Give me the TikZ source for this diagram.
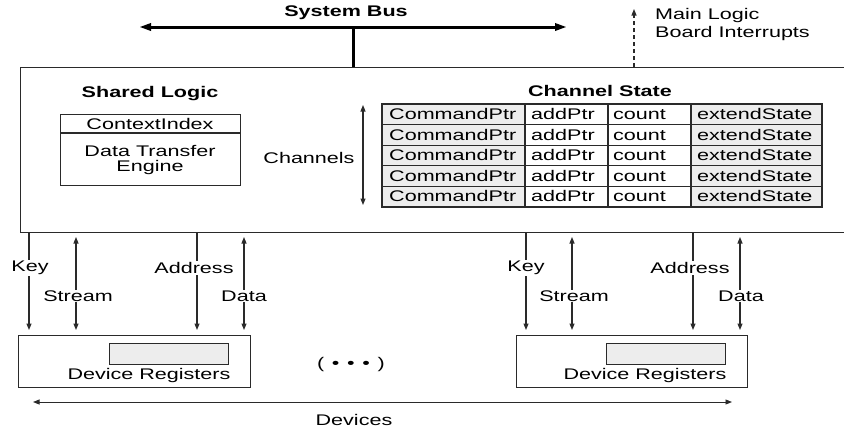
\documentclass[tikz,border=0pt]{standalone}
\usepackage{fontspec}
\setmainfont{Liberation Sans}[FakeStretch=1.4]
\usetikzlibrary{arrows.meta}
\definecolor{cellgray}{HTML}{EDEDED}
\definecolor{linecol}{HTML}{2A2A2A}
\begin{document}
\begin{tikzpicture}[x=1pt,y=-1pt,
  font=\fontsize{15.4}{18}\selectfont,
  line/.style={line width=1.1pt, draw=linecol},
  tip/.style={-{Triangle[length=6.5pt,width=5pt]}},
  dtip/.style={{Triangle[length=6.5pt,width=5pt]}-{Triangle[length=6.5pt,width=5pt]}},
  lbl/.style={fill=white, inner sep=1pt},
  txt/.style={inner sep=0pt},
  boldtxt/.style={inner sep=0pt, font=\fontsize{15.4}{18}\selectfont\bfseries},
  boxnode/.style={draw=linecol, line width=1.1pt, anchor=north west, inner sep=0pt},
]
\useasboundingbox (0,0) rectangle (844,429);

% ---- system bus ----
\node[boldtxt] (sysbus) at (346,13) {System Bus};
\coordinate (busL) at (139,27);
\coordinate (busR) at (567,27);
\coordinate (busT) at (353,27);
\draw[line width=3pt, draw=black, {Triangle[length=12pt,width=7pt]}-{Triangle[length=12pt,width=7pt]}] (busL) -- (busR);

% ---- main box ----
\node[boxnode, minimum width=830pt, minimum height=165pt] (main) at (20,67) {};
\draw[line width=3pt, draw=black] (busT) -- (busT |- main.north);

% ---- interrupts ----
\coordinate (intA) at (634,67);
\coordinate (intB) at (634,9);
\draw[line, dash pattern=on 4pt off 3pt, tip] (intA) -- (intB);
\node[txt, anchor=base west] (ml1) at (655,19.5) {Main Logic};
\node[txt, anchor=base west] (ml2) at (655,37.5) {Board Interrupts};

% ---- shared logic ----
\node[boldtxt] (shared) at (150,94) {Shared Logic};
\node[boxnode, minimum width=180pt, minimum height=71pt] (engine) at (60,114) {};
\draw[line] ([yshift=-19pt]engine.north west) -- ([yshift=-19pt]engine.north east);
\node[txt] (ctx) at (150,124) {ContextIndex};
\node[txt] (dt1) at (150,151) {Data Transfer};
\node[txt] (dt2) at (150,168) {Engine};

% ---- channels ----
\node[txt] (chl) at (309,158) {Channels};
\coordinate (chT) at (363,105);
\coordinate (chB) at (363,205);
\draw[line, dtip] (chT) -- (chB);

% ---- channel state table ----
\node[boldtxt] (chstate) at (600,91) {Channel State};
\foreach \r in {0,...,4}{
  \pgfmathsetmacro{\ya}{104+20.6*\r}
  \pgfmathsetmacro{\yb}{104+20.6*(\r+1)}
  \pgfmathsetmacro{\yt}{104+20.6*\r+15.4}
  \fill[cellgray] (382,\ya) rectangle (525,\yb);
  \fill[cellgray] (691,\ya) rectangle (822,\yb);
  \node[txt, anchor=base west] (cmd\r) at (389,\yt) {CommandPtr};
  \node[txt, anchor=base west] (add\r) at (531,\yt) {addPtr};
  \node[txt, anchor=base west] (cnt\r) at (613,\yt) {count};
  \node[txt, anchor=base west] (ext\r) at (697,\yt) {extendState};
}
\foreach \r in {1,...,4}{
  \pgfmathsetmacro{\ya}{104+20.6*\r}
  \draw[line] (382,\ya) -- (822,\ya);
}
\foreach \c in {525,608,691}{
  \draw[line] (\c,104) -- (\c,207);
}
\draw[line] (382,104) rectangle (822,207);

% ---- device boxes ----
\node[boxnode, minimum width=232pt, minimum height=52pt] (dev1) at (18,335) {};
\node[boxnode, minimum width=231pt, minimum height=52pt] (dev2) at (516,335) {};
\node[boxnode, fill=cellgray, minimum width=119pt, minimum height=21pt] (reg1) at (109,343) {};
\node[boxnode, fill=cellgray, minimum width=119pt, minimum height=21pt] (reg2) at (606,343) {};
\node[txt] (dr1) at (149,376) {Device Registers};
\node[txt] (dr2) at (645,376) {Device Registers};
\node[txt] (dots) at (351,365) {(\enspace•\enspace•\enspace•\enspace)};

% ---- signal arrows ----
\foreach \n/\x in {k1/29, s1/76, a1/197, d1/244, k2/526, s2/572, a2/693, d2/740}{
  \coordinate (\n top) at (\x,232);
  \coordinate (\n bot) at (\x,330);
  \coordinate (\n up) at (\x,237);
}
\draw[line, tip] (k1top) -- (k1bot);
\draw[line, tip] (a1top) -- (a1bot);
\draw[line, tip] (k2top) -- (k2bot);
\draw[line, tip] (a2top) -- (a2bot);
\draw[line, dtip] (s1up) -- (s1bot);
\draw[line, dtip] (d1up) -- (d1bot);
\draw[line, dtip] (s2up) -- (s2bot);
\draw[line, dtip] (d2up) -- (d2bot);
\node[lbl] (lk1) at (30,268) {Key};
\node[lbl] (ls1) at (78,296) {Stream};
\node[lbl] (la1) at (194,268) {Address};
\node[lbl] (ld1) at (244,296) {Data};
\node[lbl] (lk2) at (526,268) {Key};
\node[lbl] (ls2) at (574,296) {Stream};
\node[lbl] (la2) at (690,268) {Address};
\node[lbl] (ld2) at (741,296) {Data};

% ---- devices span ----
\coordinate (devL) at (33,402);
\coordinate (devR) at (732,402);
\draw[line width=0.9pt, draw=linecol, dtip] (devL) -- (devR);
\node[txt] (devs) at (354,420) {Devices};
\end{tikzpicture}
\end{document}
